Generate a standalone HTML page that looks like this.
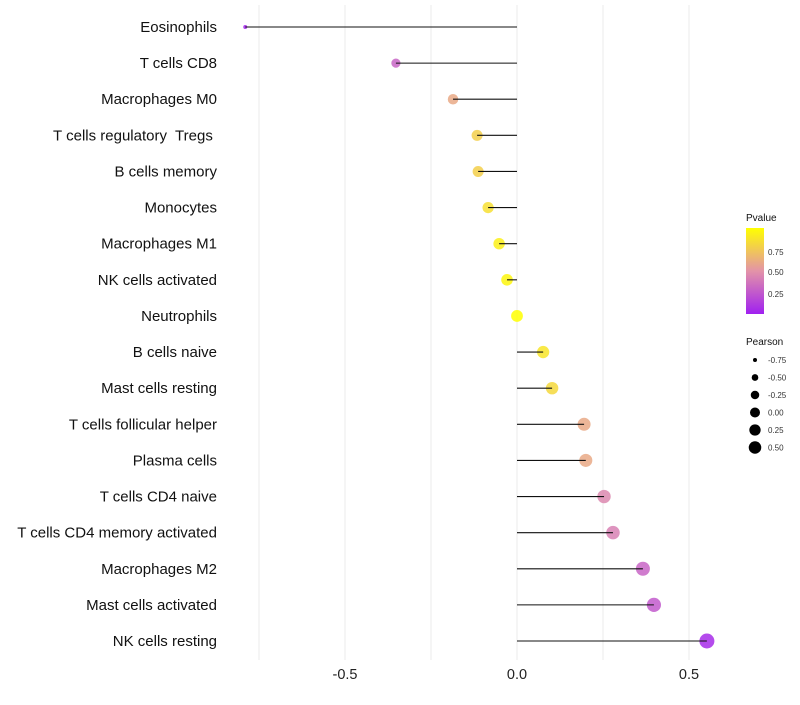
<!DOCTYPE html>
<html><head><meta charset="utf-8"><style>
body{margin:0;background:#fff;font-family:"Liberation Sans",sans-serif}
</style></head><body>
<svg id="chart" width="800" height="700" xmlns="http://www.w3.org/2000/svg">
<defs><linearGradient id="pg" x1="0" y1="1" x2="0" y2="0">
<stop offset="0" stop-color="#A020F0"/><stop offset="0.5" stop-color="#E393A8"/><stop offset="1" stop-color="#FFFF00"/>
</linearGradient></defs>
<g id="grid"></g><g id="marks"></g><g id="ylabels"></g><g id="xlabels"></g>
<g id="legend">
<text x="746" y="221" font-size="10" fill="#111">Pvalue</text>
<rect x="746" y="228" width="18" height="86" fill="url(#pg)"/>
<text x="768" y="255" font-size="8" fill="#333">0.75</text>
<text x="768" y="275" font-size="8" fill="#333">0.50</text>
<text x="768" y="297" font-size="8" fill="#333">0.25</text>
<text x="746" y="345" font-size="10" fill="#111">Pearson</text>
<g id="sizeLegend"></g>
</g>
</svg>
<script>
const categories=["Eosinophils","T cells CD8","Macrophages M0","T cells regulatory  Tregs ","B cells memory","Monocytes","Macrophages M1","NK cells activated","Neutrophils","B cells naive","Mast cells resting","T cells follicular helper","Plasma cells","T cells CD4 naive","T cells CD4 memory activated","Macrophages M2","Mast cells activated","NK cells resting"];
const pearson=[-0.79,-0.352,-0.186,-0.116,-0.113,-0.084,-0.052,-0.029,0.0,0.076,0.102,0.195,0.2,0.253,0.279,0.366,0.398,0.552];
const pvalue=[0.02,0.3,0.6,0.78,0.78,0.85,0.93,0.96,1.0,0.88,0.82,0.6,0.6,0.45,0.42,0.3,0.25,0.05];
const xTicks=[-0.5,0,0.5];
const xTickLabels=["-0.5","0.0","0.5"];
const xMinor=[-0.75,-0.25,0.25];
const sizeLegendVals=[-0.75,-0.5,-0.25,0,0.25,0.5];
const sizeLegendLabels=["-0.75","-0.50","-0.25","0.00","0.25","0.50"];
const NS="http://www.w3.org/2000/svg";
const xs=v=>517+v*344;
const ys=i=>27+i*(641-27)/17;
const rs=v=>Math.sqrt(Math.max(1,34.8+39*v));
function lerp(a,b,t){return Math.round(a+(b-a)*t);}
function col(p){const s=[[160,32,240],[227,147,168],[255,255,0]];let a,b,t;if(p<0.5){a=s[0];b=s[1];t=p/0.5}else{a=s[1];b=s[2];t=(p-0.5)/0.5}return `rgb(${lerp(a[0],b[0],t)},${lerp(a[1],b[1],t)},${lerp(a[2],b[2],t)})`;}
function mk(tag,at,parent){const e=document.createElementNS(NS,tag);for(const k in at)e.setAttribute(k,at[k]);document.getElementById(parent).appendChild(e);return e;}
xMinor.concat(xTicks).forEach(v=>{const l=mk('line',{x1:xs(v),x2:xs(v),y1:5,y2:660,stroke:'#ebebeb','stroke-width':1},'grid');

});
xTicks.forEach((v,i)=>{const t=mk('text',{x:xs(v),y:679,'text-anchor':'middle','font-size':14.5,fill:'#222'},'xlabels');t.textContent=xTickLabels[i];

});
categories.forEach((c,i)=>{
const t=mk('text',{x:217,y:ys(i)+5,'text-anchor':'end','font-size':15,fill:'#111',style:'white-space:pre'},'ylabels');t.textContent=c;


const p=mk('circle',{cx:xs(pearson[i]),cy:ys(i),r:rs(pearson[i]),fill:col(pvalue[i]),'fill-opacity':0.85},'marks');


const l=mk('line',{x1:xs(0),x2:xs(pearson[i]),y1:ys(i),y2:ys(i),stroke:'#111','stroke-width':1.1},'marks');


});
sizeLegendVals.forEach((v,i)=>{const y=360+i*17.5;
const c=mk('circle',{cx:755,cy:y,r:rs(v)*0.85,fill:'#000'},'sizeLegend');


const t=mk('text',{x:768,y:y+3,'font-size':8,fill:'#333'},'sizeLegend');t.textContent=sizeLegendLabels[i];

});
</script>
</body></html>
